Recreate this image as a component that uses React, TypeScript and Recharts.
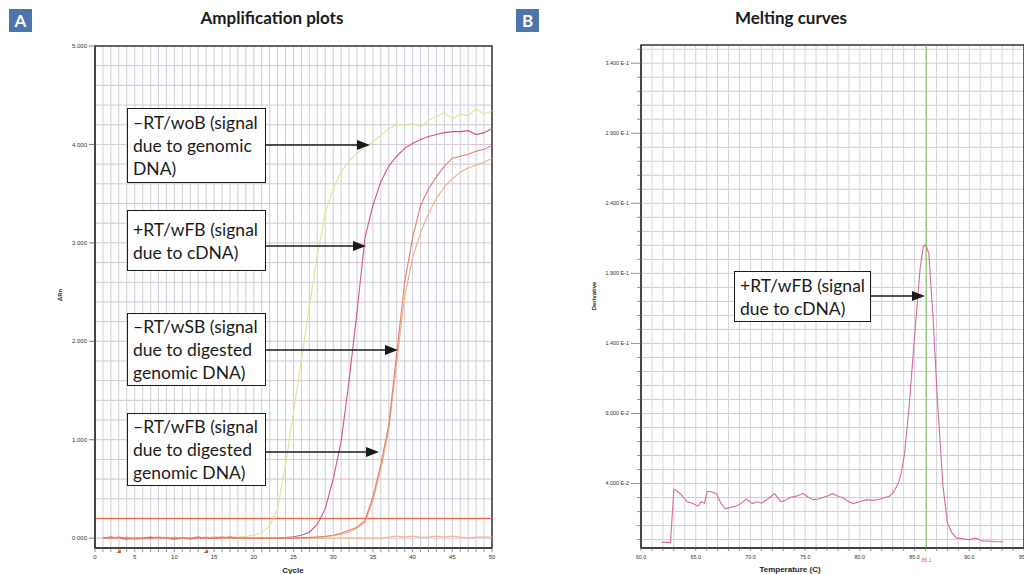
import React from 'react';
import { LineChart, Line, XAxis, YAxis, CartesianGrid, ReferenceLine, ReferenceArea, ReferenceDot } from 'recharts';

// ---------- Panel A: amplification plots ----------
const cycles = [1, 2, 3, 4, 5, 6, 7, 8, 9, 10, 11, 12, 13, 14, 15, 16, 17, 18, 19, 20, 21, 22, 23, 24, 25, 26, 27, 28, 29, 30, 31, 32, 33, 34, 35, 36, 37, 38, 39, 40, 41, 42, 43, 44, 45, 46, 47, 48, 49, 50];
const minusRTwoB = [0.01, 0.0, -0.01, 0.0, 0.01, 0.0, 0.0, -0.01, 0.0, 0.0, 0.01, 0.0, 0.0, 0.0, 0.01, 0.01, 0.01, 0.01, 0.02, 0.03, 0.06, 0.12, 0.3, 0.75, 1.28, 1.81, 2.35, 2.88, 3.3, 3.55, 3.72, 3.83, 3.91, 3.97, 4.03, 4.09, 4.16, 4.2, 4.2, 4.21, 4.18, 4.24, 4.29, 4.32, 4.26, 4.31, 4.29, 4.36, 4.31, 4.34];
const plusRTwFB = [0.0, 0.01, 0.0, -0.01, 0.0, 0.0, 0.01, 0.0, 0.0, -0.01, 0.0, 0.0, 0.01, 0.0, 0.0, 0.0, 0.01, 0.0, 0.0, 0.0, 0.0, 0.0, 0.0, 0.005, 0.015, 0.03, 0.06, 0.14, 0.3, 0.6, 0.98, 1.6, 2.3, 3.05, 3.38, 3.62, 3.78, 3.88, 3.96, 4.01, 4.05, 4.08, 4.1, 4.12, 4.13, 4.13, 4.14, 4.1, 4.12, 4.16];
const minusRTwSB = [0.0, 0.0, 0.01, 0.0, -0.01, 0.0, 0.0, 0.01, 0.0, 0.0, 0.0, -0.01, 0.0, 0.0, 0.0, 0.01, 0.0, 0.0, 0.0, 0.0, 0.0, 0.0, 0.0, 0.0, 0.0, 0.005, 0.005, 0.01, 0.02, 0.03, 0.05, 0.08, 0.11, 0.18, 0.42, 0.75, 1.15, 1.88, 2.6, 3.05, 3.38, 3.55, 3.67, 3.78, 3.86, 3.88, 3.9, 3.93, 3.95, 3.99];
const minusRTwFB = [0.0, 0.0, 0.0, 0.01, 0.0, 0.0, -0.01, 0.0, 0.0, 0.01, 0.0, 0.0, 0.0, 0.0, 0.01, 0.0, 0.0, 0.0, 0.0, 0.0, 0.0, 0.0, 0.0, 0.0, 0.0, 0.0, 0.005, 0.01, 0.015, 0.025, 0.04, 0.06, 0.1, 0.16, 0.38, 0.7, 1.1, 1.78, 2.45, 2.85, 3.1, 3.3, 3.45, 3.57, 3.65, 3.72, 3.76, 3.79, 3.82, 3.86];
const noTemplate = [0.0, 0.01, 0.0, 0.0, 0.0, -0.01, 0.0, 0.0, 0.01, 0.0, 0.0, 0.0, 0.0, 0.01, 0.0, 0.0, 0.0, 0.0, 0.0, 0.0, 0.0, 0.0, 0.0, 0.0, 0.0, 0.0, 0.0, 0.0, 0.0, 0.0, 0.0, 0.0, 0.0, 0.0, 0.0, 0.0, 0.01, 0.02, 0.01, 0.02, 0.01, 0.01, 0.02, 0.01, 0.02, 0.01, 0.0, 0.01, 0.01, 0.01];
const cycleTicks = Array.from({ length: 51 }, (_, i) => i);
const deltaRnTicks = Array.from({ length: 26 }, (_, i) => Math.round(i * 2) / 10);
const deltaRnDomain = [-0.1, 5];
const cycleDomain = [0, 50];
const threshold = 0.2;
const baselineMarks = [3, 14];

// ---------- Panel B: melting curve ----------
const meltTemps = [61.9, 62.7, 63.0, 63.4, 63.8, 64.2, 64.7, 65.2, 65.5, 65.8, 66.05, 66.5, 66.9, 67.3, 67.7, 68.2, 68.7, 69.2, 69.6, 70.2, 70.6, 71.0, 71.6, 72.2, 72.8, 73.2, 73.6, 74.2, 74.8, 75.3, 75.7, 76.2, 76.6, 77.0, 77.5, 78.0, 78.5, 79.0, 79.4, 80.0, 80.6, 81.2, 81.8, 82.3, 82.7, 83.1, 83.5, 83.8, 84.1, 84.5, 85.0, 85.5, 85.8, 86.0, 86.3, 86.7, 87.1, 87.6, 88.0, 88.4, 88.8, 89.4, 90.0, 90.6, 91.2, 91.8, 92.4, 93.1];
const meltDerivative = [-0.002, -0.002, 0.036, 0.034, 0.031, 0.027, 0.026, 0.024, 0.027, 0.026, 0.0345, 0.034, 0.0326, 0.026, 0.022, 0.023, 0.024, 0.026, 0.029, 0.0257, 0.027, 0.026, 0.029, 0.0328, 0.027, 0.028, 0.03, 0.031, 0.033, 0.03, 0.0285, 0.029, 0.03, 0.031, 0.0328, 0.031, 0.0297, 0.027, 0.0257, 0.027, 0.0285, 0.028, 0.029, 0.03, 0.031, 0.034, 0.04, 0.048, 0.062, 0.095, 0.145, 0.193, 0.209, 0.2104, 0.2045, 0.157, 0.0975, 0.038, 0.012, 0.005, 0.0012, 0.0005, 0.0, 0.001, -0.001, -0.001, -0.0015, -0.0015];
const tempTicks = Array.from({ length: 36 }, (_, i) => 60 + i);
const derivTicks = Array.from({ length: 36 }, (_, i) => i / 100);
const tempDomain = [60, 95];
const derivDomain = [-0.006, 0.353];
const peakTemp = 86.1;

const AXIS = '#3a3a3a';
const TICKFONT = '"Liberation Sans", Arial, sans-serif';

const leftYTick = (props: any) => {
  const { x, y, payload } = props;
  const v = payload.value as number;
  const major = Math.abs(v - Math.round(v)) < 1e-9;
  if (!major) return <g />;
  return (
    <g>
      <line x1={x - 6} x2={x} y1={y} y2={y} stroke="#555" strokeWidth={0.8} />
      <text x={x - 8} y={y} dy="0.35em" textAnchor="end" fontSize={6} fontFamily={TICKFONT} fill="#333">
        {v.toFixed(3)}
      </text>
    </g>
  );
};

const rightYTick = (props: any) => {
  const { x, y, payload } = props;
  const v = payload.value as number;
  const k = Math.round(v * 100);
  const major = k % 5 === 4;
  const len = major ? 10 : 4;
  const label = v >= 0.1 ? (v * 10).toFixed(3) + ' E-1' : (v * 100).toFixed(3) + ' E-2';
  return (
    <g>
      <line x1={x - len} x2={x} y1={y} y2={y} stroke="#666" strokeWidth={0.7} />
      {major && (
        <text x={x - len - 2} y={y} dy="0.35em" textAnchor="end" fontSize={5.4} fontFamily={TICKFONT} fill="#333">
          {label}
        </text>
      )}
    </g>
  );
};

const redMark = (props: any) => {
  const { cx, cy } = props;
  return <path d={`M${cx - 2.5},${cy + 5} L${cx + 2},${cy + 1.5} L${cx + 2},${cy + 5} Z`} fill="#e8452a" />;
};

const boxStyle = (left: number, top: number, width: number, height: number): React.CSSProperties => ({
  position: 'absolute',
  left,
  top,
  width,
  height,
  boxSizing: 'border-box',
  border: '1.5px solid #1a1a1a',
  background: '#fff',
  fontFamily: 'Lato, "Open Sans", sans-serif',
  fontSize: 17.5,
  lineHeight: '23px',
  color: '#1a1a1a',
  paddingLeft: 5,
  display: 'flex',
  flexDirection: 'column',
  justifyContent: 'center',
  whiteSpace: 'nowrap',
  overflow: 'hidden',
});

const Arrow = ({ x1, x2, y }: { x1: number; x2: number; y: number }) => (
  <g>
    <line x1={x1} x2={x2 - 10} y1={y} y2={y} stroke="#1a1a1a" strokeWidth={1.5} />
    <path d={`M${x2},${y} L${x2 - 13},${y - 5} L${x2 - 13},${y + 5} Z`} fill="#1a1a1a" />
  </g>
);

const badge = (left: number): React.CSSProperties => ({
  position: 'absolute',
  left,
  top: 9,
  width: 23,
  height: 23,
  background: '#4d74ab',
  color: '#fff',
  fontFamily: 'Lato, sans-serif',
  fontWeight: 700,
  fontSize: 17,
  lineHeight: '23px',
  textAlign: 'center',
});

export default function App() {
  const ampData = cycles.map((c, i) => ({
    c,
    woB: minusRTwoB[i],
    wFBp: plusRTwFB[i],
    wSB: minusRTwSB[i],
    wFBm: minusRTwFB[i],
    ntc: noTemplate[i],
  }));
  const meltData = meltTemps.map((t, i) => ({ t, d: meltDerivative[i] }));

  return (
    <div style={{ position: 'absolute', left: 0, top: 0, width: 1024, height: 574, overflow: 'hidden', background: '#fff' }}>
      <div style={{ position: 'absolute', left: 0, top: 0 }}>
        <LineChart width={500} height={574} data={ampData} margin={{ top: 46, right: 8, bottom: 0, left: 0 }}>
          <CartesianGrid horizontal={true} vertical={false} stroke="#d8c5ce" strokeWidth={1} />
          <CartesianGrid horizontal={false} vertical={true} stroke="#cdcfda" strokeWidth={1} />
          <XAxis
            dataKey="c"
            type="number"
            domain={cycleDomain}
            ticks={cycleTicks}
            interval={0}
            height={26}
            tickSize={4}
            tickMargin={3}
            allowDataOverflow
            tick={{ fontSize: 6, fill: '#333', fontFamily: TICKFONT }}
            tickFormatter={(v: number) => (v % 5 === 0 ? String(v) : '')}
            axisLine={{ stroke: AXIS, strokeWidth: 1.5 }}
            tickLine={{ stroke: '#666', strokeWidth: 0.7 }}
          />
          <YAxis
            type="number"
            domain={deltaRnDomain}
            ticks={deltaRnTicks}
            interval={0}
            width={95}
            tickSize={0}
            tickMargin={0}
            tickLine={false}
            allowDataOverflow
            tick={leftYTick}
            axisLine={{ stroke: AXIS, strokeWidth: 1.5 }}
          />
          <ReferenceArea x1={0} x2={50} y1={-0.1} y2={5} fill="none" stroke={AXIS} strokeWidth={1.5} ifOverflow="visible" />
          <ReferenceLine y={threshold} stroke="#f26b4f" strokeWidth={1.3} />
          {baselineMarks.map((m) => (
            <ReferenceDot key={m} x={m} y={-0.1} r={0} ifOverflow="visible" shape={redMark} />
          ))}
          <Line dataKey="ntc" stroke="#f2b68e" strokeWidth={1.3} dot={false} isAnimationActive={false} />
          <Line dataKey="woB" stroke="#e2e48a" strokeWidth={1.1} dot={false} isAnimationActive={false} />
          <Line dataKey="wFBp" stroke="#d4508c" strokeWidth={1.1} dot={false} isAnimationActive={false} />
          <Line dataKey="wFBm" stroke="#f0b07c" strokeWidth={1.1} dot={false} isAnimationActive={false} />
          <Line dataKey="wSB" stroke="#e67c6c" strokeWidth={1.1} dot={false} isAnimationActive={false} />
        </LineChart>
      </div>

      <div style={{ position: 'absolute', left: 520, top: 0 }}>
        <LineChart width={510} height={574} data={meltData} margin={{ top: 45, right: 6, bottom: 0, left: 0 }}>
          <CartesianGrid horizontal={true} vertical={false} stroke="#d8c8d0" strokeWidth={1} />
          <CartesianGrid horizontal={false} vertical={true} stroke="#d4d2dc" strokeWidth={1} />
          <XAxis
            dataKey="t"
            type="number"
            domain={tempDomain}
            ticks={tempTicks}
            interval={0}
            height={26}
            tickSize={3}
            tickMargin={4}
            allowDataOverflow
            tick={{ fontSize: 5.4, fill: '#333', fontFamily: TICKFONT }}
            tickFormatter={(v: number) => (v % 5 === 0 ? v.toFixed(1) : '')}
            axisLine={{ stroke: AXIS, strokeWidth: 1.5 }}
            tickLine={{ stroke: '#666', strokeWidth: 0.7 }}
          />
          <YAxis
            type="number"
            domain={derivDomain}
            ticks={derivTicks}
            interval={0}
            width={121}
            tickSize={0}
            tickMargin={0}
            tickLine={false}
            allowDataOverflow
            tick={rightYTick}
            axisLine={{ stroke: AXIS, strokeWidth: 1.5 }}
          />
          <ReferenceArea x1={60} x2={95} y1={-0.006} y2={0.353} fill="none" stroke={AXIS} strokeWidth={1.5} ifOverflow="visible" />
          <ReferenceLine
            x={peakTemp}
            stroke="#94c878"
            strokeWidth={1}
            label={{ value: String(peakTemp), position: 'bottom', offset: 10, fill: '#e8602c', fontSize: 5, fontFamily: TICKFONT }}
          />
          <Line dataKey="d" stroke="#d86a9c" strokeWidth={1.1} dot={false} isAnimationActive={false} />
        </LineChart>
      </div>

      <svg width={1024} height={574} style={{ position: 'absolute', left: 0, top: 0, pointerEvents: 'none' }}>
        <text x={272} y={24} textAnchor="middle" fontFamily="Lato, sans-serif" fontWeight={700} fontSize={17} fill="#1a1a1a">
          Amplification plots
        </text>
        <text x={791} y={24} textAnchor="middle" fontFamily="Lato, sans-serif" fontWeight={700} fontSize={17} fill="#1a1a1a">
          Melting curves
        </text>
        <text x={293} y={573} textAnchor="middle" fontFamily={TICKFONT} fontWeight={700} fontSize={8} fill="#222">
          Cycle
        </text>
        <text x={790} y={572} textAnchor="middle" fontFamily={TICKFONT} fontWeight={700} fontSize={8} fill="#222">
          Temperature (C)
        </text>
        <text x={62} y={295} textAnchor="middle" transform="rotate(-90 62 295)" fontFamily={TICKFONT} fontWeight={700} fontSize={6} fill="#222">
          ΔRn
        </text>
        <text x={596} y={296} textAnchor="middle" transform="rotate(-90 596 296)" fontFamily={TICKFONT} fontWeight={700} fontSize={6} fill="#222">
          Derivative
        </text>
        <Arrow x1={266} x2={370} y={145} />
        <Arrow x1={266} x2={366} y={246} />
        <Arrow x1={266} x2={398} y={350} />
        <Arrow x1={266} x2={379} y={452} />
        <Arrow x1={871} x2={925} y={296} />
      </svg>

      <div style={badge(9)}>A</div>
      <div style={badge(516)}>B</div>

      <div style={boxStyle(127, 108, 139, 75)}>
        <div>–RT/woB (signal</div>
        <div>due to genomic</div>
        <div>DNA)</div>
      </div>
      <div style={boxStyle(127, 210, 139, 61)}>
        <div>+RT/wFB (signal</div>
        <div>due to cDNA)</div>
      </div>
      <div style={boxStyle(127, 313, 139, 73)}>
        <div>–RT/wSB (signal</div>
        <div>due to digested</div>
        <div>genomic DNA)</div>
      </div>
      <div style={boxStyle(127, 413, 139, 73)}>
        <div>–RT/wFB (signal</div>
        <div>due to digested</div>
        <div>genomic DNA)</div>
      </div>
      <div style={boxStyle(734, 271, 137, 51)}>
        <div>+RT/wFB (signal</div>
        <div>due to cDNA)</div>
      </div>
    </div>
  );
}
